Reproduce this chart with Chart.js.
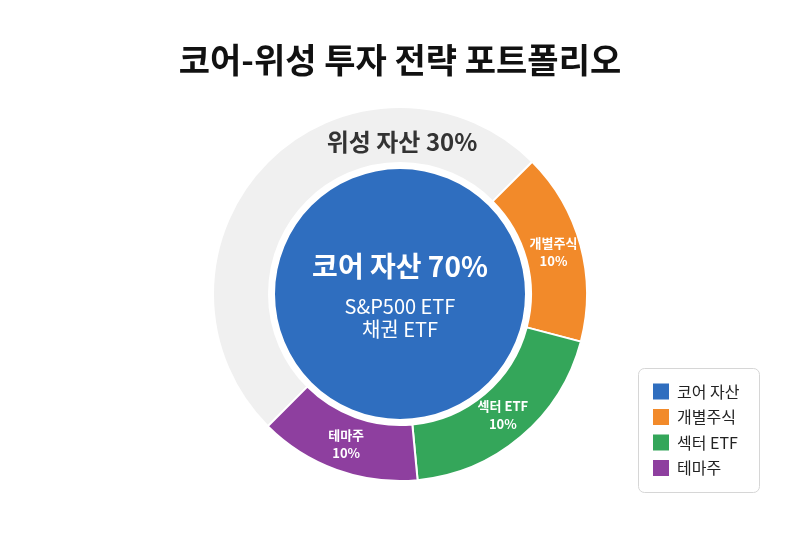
<!DOCTYPE html>
<html><head><meta charset="utf-8">
<script src="https://cdn.jsdelivr.net/npm/chart.js@4.4.1/dist/chart.umd.min.js"></script>
<style>html,body{margin:0;padding:0;background:#fff}#wrap{width:800px;height:536px;position:relative}</style>
</head><body><div id="wrap"><canvas id="c" width="800" height="536"></canvas></div>
<script>
const titleText = '코어-위성 투자 전략 포트폴리오';
const categories = ['코어 자산', '개별주식', '섹터 ETF', '테마주'];
// visual share of the outer ring occupied by each slice (core part shown grey)
const ringValues = [50, 16.6, 19.4, 14];
const ringLabels = ['', '10%', '10%', '10%'];
const coreValues = [100, 0, 0, 0];
const gapValues = [1, 0, 0, 0];
const colors = ['#2f6ebf', '#f28a2a', '#34a65a', '#8e3f9f'];
const ringGray = '#f0f0f0';
const coreTitle = '코어 자산 70%';
const coreLines = ['S&P500 ETF', '채권 ETF'];
const satelliteTitle = '위성 자산 30%';

const FF = '"Noto Sans CJK KR", "Noto Sans", sans-serif';
Chart.defaults.font.family = FF;

const labelPlugin = {
  id: 'labels',
  afterDatasetsDraw(chart) {
    const ctx = chart.ctx;
    const ring = chart.getDatasetMeta(0).data;
    const core = chart.getDatasetMeta(2).data[0];
    const cx = core.x, cy = core.y;
    ctx.save();
    ctx.textAlign = 'center';
    ctx.textBaseline = 'middle';
    ctx.fillStyle = '#fff';
    ctx.font = 'bold 13px ' + FF;
    for (let i = 1; i < ring.length; i++) {
      const p = ring[i].tooltipPosition();
      ctx.fillText(categories[i], p.x, p.y - 9);
      ctx.fillText(ringLabels[i], p.x, p.y + 9);
    }
    // core text
    ctx.font = 'bold 28px ' + FF;
    ctx.fillText(coreTitle, cx, cy - 28);
    ctx.font = '20px ' + FF;
    ctx.fillText(coreLines[0], cx, cy + 12);
    ctx.fillText(coreLines[1], cx, cy + 35);
    // satellite title
    ctx.fillStyle = '#333';
    ctx.font = 'bold 24px ' + FF;
    ctx.fillText(satelliteTitle, cx + 2, cy - 152);
    ctx.restore();
  },
  afterDraw(chart) {
    const ctx = chart.ctx;
    ctx.save();
    const bx = 638.5, by = 368.5, bw = 121, bh = 124;
    ctx.strokeStyle = '#d6d6d6';
    ctx.lineWidth = 1;
    ctx.beginPath();
    ctx.roundRect(bx, by, bw, bh, 6);
    ctx.fillStyle = '#fff';
    ctx.fill();
    ctx.stroke();
    ctx.textAlign = 'left';
    ctx.textBaseline = 'middle';
    ctx.font = '16px ' + FF;
    for (let i = 0; i < categories.length; i++) {
      const y = 391.5 + i * 25.5;
      ctx.fillStyle = colors[i];
      ctx.fillRect(653, y - 8, 16, 16);
      ctx.fillStyle = '#222';
      ctx.fillText(categories[i], 677, y);
    }
    ctx.restore();
  }
};

new Chart(document.getElementById('c'), {
  type: 'doughnut',
  data: {
    labels: categories,
    datasets: [
      { data: ringValues, backgroundColor: [ringGray, colors[1], colors[2], colors[3]],
        borderColor: '#ffffff', borderWidth: 2, weight: 56 },
      { data: gapValues, backgroundColor: 'rgba(0,0,0,0)', borderWidth: 0, weight: 6 },
      { data: coreValues, backgroundColor: colors[0], borderWidth: 0, weight: 125 }
    ]
  },
  options: {
    responsive: false,
    animation: false,
    rotation: 225,
    cutout: 0,
    layout: { padding: { top: 0, bottom: 54, left: 0, right: 0 } },
    plugins: {
      legend: { display: false },
      tooltip: { enabled: false },
      title: {
        display: true, text: titleText, color: '#111',
        font: { size: 34, weight: 'bold', family: FF },
        padding: { top: 39.6, bottom: 25.6 }
      }
    }
  },
  plugins: [labelPlugin]
});
</script></body></html>
